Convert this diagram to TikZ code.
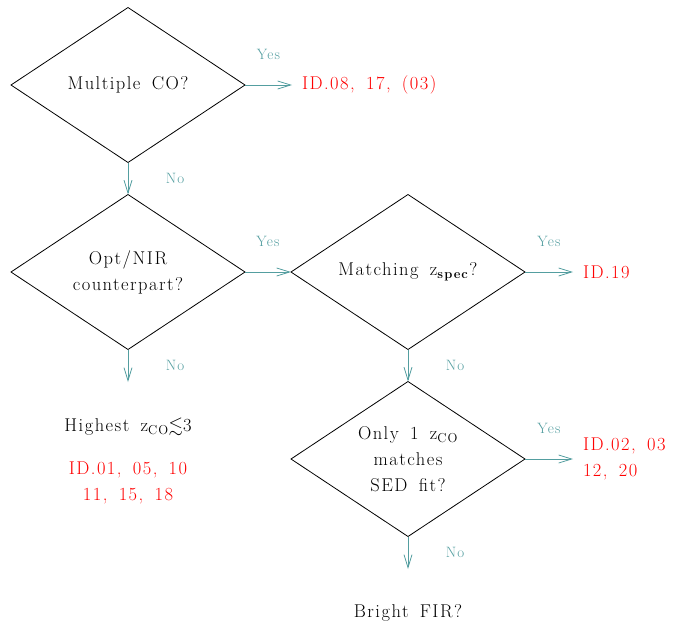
\documentclass[tikz,border=0pt]{standalone}
\usepackage{fontspec}
\usepackage{amssymb}
\setmainfont{Latin Modern Roman}[WordSpace=1.6]
\usetikzlibrary{shapes.geometric, arrows.meta}
\definecolor{flowteal}{RGB}{84,158,160}
\definecolor{flowred}{RGB}{255,0,0}
\newcommand{\bigtext}{\addfontfeatures{LetterSpace=8}\fontsize{18.5}{26}\selectfont}
\newcommand{\smalltext}{\addfontfeatures{LetterSpace=8}\fontsize{15}{16}\selectfont}
\tikzset{
	question/.style = {draw, diamond, aspect=1.5, line width=0.8pt, inner sep=0pt, outer sep=0pt,
		minimum width=234pt, minimum height=155pt, align=center, font=\bigtext},
	outcome/.style = {text=flowred, align=left, inner xsep=10pt, outer sep=0pt, font=\bigtext},
	plain/.style = {align=center, font=\bigtext},
	flow/.style = {draw=flowteal, line width=0.8pt, -{Straight Barb[length=13pt, width=8pt]}},
	yes/.style = {midway, yshift=31pt, text=flowteal, font=\smalltext},
	no/.style = {midway, xshift=47pt, text=flowteal, font=\smalltext}
}

\begin{document}
\begin{tikzpicture}[x=1pt, y=-1pt]
	\useasboundingbox (0,0) rectangle (686,625);
	% questions
	\node[question] (multi) at (128,85) {Multiple CO?};
	\node[question] (optnir) at (128,272) {Opt/NIR\\counterpart?};
	\node[question] (zspec) at (408,272) {Matching z\textsubscript{\textbf{spec}}?};
	\node[question] (onlyone) at (408,459) {Only 1 z\textsubscript{CO}\\matches\\SED fit?};
	% answers
	\node[outcome, anchor=west] (idmulti) at (292,85) {ID.08, 17, (03)};
	\node[outcome, anchor=west] (idspec) at (573,272) {ID.19};
	\node[outcome, anchor=west] (idsed) at (573,459) {ID.02, 03\\12, 20};
	\node[plain] (highest) at (128,427) {Highest z\textsubscript{CO}$\lesssim$3};
	\node[outcome, align=center] (idlow) at (128,483) {ID.01, 05, 10\\11, 15, 18};
	\node[plain] (bright) at (408,613) {Bright FIR?};
	\coordinate (optend) at (128,382);
	\coordinate (onlyend) at (408,569);
	% arrows
	\draw[flow] (multi) -- (idmulti) node[yes] {Yes};
	\draw[flow] (multi) -- (optnir) node[no] {No};
	\draw[flow] (optnir) -- (zspec) node[yes] {Yes};
	\draw[flow] (optnir) -- (optend) node[no] {No};
	\draw[flow] (zspec) -- (idspec) node[yes] {Yes};
	\draw[flow] (zspec) -- (onlyone) node[no] {No};
	\draw[flow] (onlyone) -- (idsed) node[yes] {Yes};
	\draw[flow] (onlyone) -- (onlyend) node[no] {No};
\end{tikzpicture}
\end{document}
